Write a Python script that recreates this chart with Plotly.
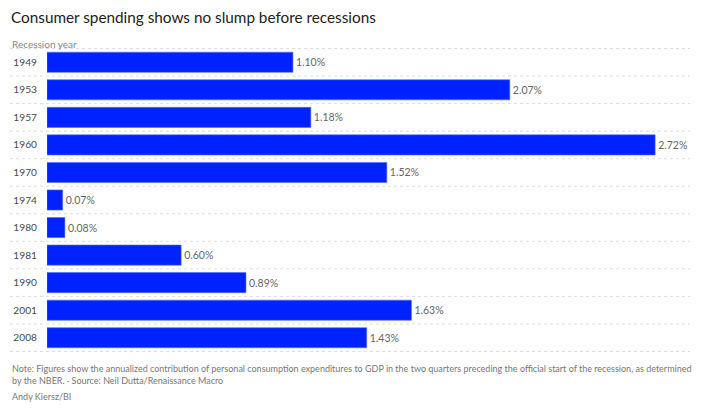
import plotly.graph_objects as go

years = ["1949", "1953", "1957", "1960", "1970", "1974", "1980", "1981", "1990", "2001", "2008"]
values = [1.10, 2.07, 1.18, 2.72, 1.52, 0.07, 0.08, 0.60, 0.89, 1.63, 1.43]
labels = ["1.10%", "2.07%", "1.18%", "2.72%", "1.52%", "0.07%", "0.08%", "0.60%", "0.89%", "1.63%", "1.43%"]

W, H = 703, 408
L, R, T, B = 47, 13, 48, 56
PW, PH = W - L - R, H - T - B
FONT = "Lato, Roboto, sans-serif"

fig = go.Figure()
fig.add_trace(go.Bar(
    x=values, y=years, orientation="h",
    marker=dict(color="#0022ff", line=dict(color="#4d6bff", width=0.6)),
    text=labels, textposition="outside", cliponaxis=False,
    textfont=dict(family=FONT, size=10.5, color="#666"),
    hoverinfo="skip",
))

shapes = []
for i in range(len(years) + 1):
    shapes.append(dict(type="line", xref="paper", yref="y",
                       x0=-37 / PW, x1=1.0, y0=i - 0.5, y1=i - 0.5,
                       line=dict(color="#dddddd", width=1, dash="dot"), layer="below"))

fig.update_layout(
    width=W, height=H,
    margin=dict(l=L, r=R, t=T, b=B, autoexpand=False),
    paper_bgcolor="white", plot_bgcolor="white",
    bargap=0.27,
    showlegend=False,
    shapes=shapes,
    xaxis=dict(range=[0, 2.876], visible=False, fixedrange=True),
    yaxis=dict(autorange="reversed", showgrid=False, zeroline=False, ticks="",
               tickfont=dict(family=FONT, size=10.2, color="#4a4a4a"),
               ticklabelstandoff=9, fixedrange=True, automargin=False),
    font=dict(family=FONT),
    annotations=[
        dict(text="Consumer spending shows no slump before recessions", xref="paper", yref="paper",
             x=-(L - 9) / PW, y=1 + (T - 17) / PH, xanchor="left", yanchor="middle",
             showarrow=False, font=dict(size=15.3, color="#222")),
        dict(text="Recession year", xref="paper", yref="paper",
             x=-(L - 10) / PW, y=1 + (T - 44) / PH, xanchor="left", yanchor="middle",
             showarrow=False, font=dict(size=10, color="#888")),
        dict(text="Note: Figures show the annualized contribution of personal consumption expenditures to GDP in the two quarters preceding the official start of the recession, as determined<br>by the NBER. · Source: Neil Dutta/Renaissance Macro",
             xref="paper", yref="paper", align="left",
             x=-(L - 10) / PW, y=-(361 - (H - B)) / PH, xanchor="left", yanchor="top",
             showarrow=False, font=dict(size=9, color="#777")),
        dict(text="Andy Kiersz/BI", xref="paper", yref="paper",
             x=-(L - 10) / PW, y=-(396 - (H - B)) / PH, xanchor="left", yanchor="middle",
             showarrow=False, font=dict(size=9, color="#777")),
    ],
)

fig.write_html("out.html", config={"displayModeBar": False},
               post_script="document.body.style.margin='0';document.body.style.overflow='hidden';")
